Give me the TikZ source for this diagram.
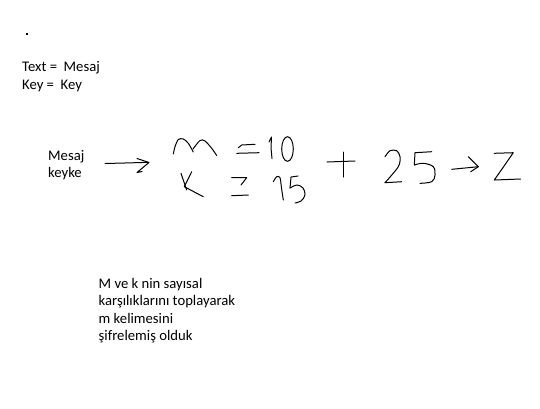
\documentclass[tikz,border=0pt]{standalone}
\usepackage{fontspec}
\setmainfont{Carlito}
\usetikzlibrary{positioning}

\begin{document}
\begin{tikzpicture}[
  x=1pt, y=-1pt,
  txt/.style={font=\fontsize{14.67}{17.5}\selectfont, inner sep=0pt, align=left, anchor=base west},
  pen/.style={line width=1pt, line cap=round, line join=round},
]
\useasboundingbox[fill=white] (0,0) rectangle (540,408);

% Typed labels (base anchor sits on the last line)
\fill (26,33) rectangle (28,35);
\node[txt] (defs) at (22,89.2) {Text = \ Mesaj\\Key = \ Key};
\node[txt] (msg) at (48,177.5) {Mesaj\\keyke};
\node[txt] (note) at (98.5,340.8) {M ve k nin sayısal\\karşılıklarını toplayarak\\m kelimesini\\şifrelemiş olduk};

% Hand-drawn arrow after the labels
\draw[pen] (105,163.5) .. controls (125,163) .. (148.5,162.3);
\draw[pen] (137,158.5) -- (149,162.5) -- (137,172.5) -- (142,171.5);

% m = 10
\draw[pen] plot[smooth, tension=0.5] coordinates {(173.3,154) (175,146.7) (178.3,139.5) (183.3,139) (188.3,143.3) (193.3,152)};
\draw[pen] plot[smooth, tension=0.5] coordinates {(193,149) (200,140.5) (205,141) (211.7,148.3) (216.7,155.5)};
\draw[pen] (238.3,147.7) -- (241.7,145) -- (255,144.3);
\draw[pen] (236.7,153.3) -- (259,152.7);
\draw[pen] (269,142) -- (271.5,137) -- (271,148) -- (272,158.5);
\draw[pen] (287.5,149) ellipse[x radius=5.8, y radius=12.3];

% k = 15
\draw[pen] (181,173.3) -- (186.7,190);
\draw[pen] (191.7,171.7) -- (184.3,186.7) -- (203.3,196.7);
\draw[pen] (231.7,177.7) -- (246.7,177.7) -- (241,185);
\draw[pen] (231.7,195.7) -- (248.3,195);
\draw[pen] plot[smooth, tension=0.5] coordinates {(273.3,181.7) (276.7,176.7) (280,177.7) (281.5,188) (283.3,200)};
\draw[pen] (298,176) -- (291,177) -- (290,188);
\draw[pen] plot[smooth, tension=0.6] coordinates {(290,188) (297,185) (303,188) (305,195) (301,201) (295,203)};

% + 25 -> z
\draw[pen] (327,162) -- (355,161);
\draw[pen] (343,152) -- (343,177);
\draw[pen] plot[smooth, tension=0.5] coordinates {(385,156.7) (390,150.7) (396.7,150.7) (400,156.7) (398.3,166.7) (385,182.7)};
\draw[pen] (385,182.7) -- (401.7,181.7);
\draw[pen] (431.7,151.7) -- (415,152.7) -- (414.3,165);
\draw[pen] plot[smooth, tension=0.6] coordinates {(414.3,165) (423.3,163.3) (433.3,166.7) (435,175) (431.7,181.7) (420,183.3)};
\draw[pen] (451.7,169.3) -- (478.3,166.7);
\draw[pen] (468.3,156.7) -- (478.3,166.7) -- (470.7,171.7);
\draw[pen] (494.3,153.3) -- (513.3,152.7) -- (494.3,180) -- (520.7,179);
\end{tikzpicture}
\end{document}
